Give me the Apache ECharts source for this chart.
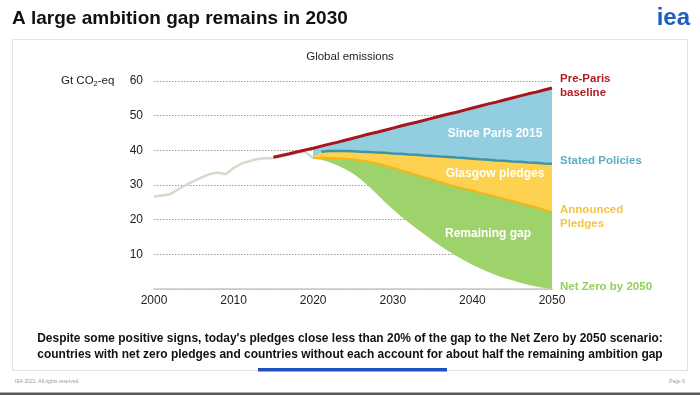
<!DOCTYPE html>
<html><head><meta charset="utf-8">
<script src="https://cdn.jsdelivr.net/npm/echarts@6/dist/echarts.min.js"></script>
<style>html,body{margin:0;padding:0;background:#fff;}#c{width:700px;height:395px;}</style>
</head><body><div id="c"></div>
<script>
// ---- data (Gt CO2-eq) ----
const histYears = [2000,2001,2002,2003,2004,2005,2006,2007,2008,2009,2010,2011,2012,2013,2014,2015,2016,2017,2018,2019,2020];
const historical = [26.7,27.0,27.3,28.7,30.0,31.1,32.2,33.2,33.6,33.1,34.9,36.2,36.9,37.5,37.7,37.8,38.2,38.8,39.3,39.5,37.8];

const preParisYears = [2015,2016,2017,2018,2019,2020,2021,2022,2023,2024,2025,2026,2027,2028,2029,2030,2031,2032,2033,2034,2035,2036,2037,2038,2039,2040,2041,2042,2043,2044,2045,2046,2047,2048,2049,2050];
const preParis = [38.0,38.5,39.0,39.6,40.1,40.6,41.2,41.8,42.3,42.9,43.5,44.1,44.7,45.2,45.8,46.4,47.0,47.6,48.1,48.7,49.3,49.9,50.5,51.0,51.6,52.2,52.8,53.4,53.9,54.5,55.1,55.7,56.3,56.8,57.4,58.0];

const projYears = [2020,2021,2022,2023,2024,2025,2026,2027,2028,2029,2030,2031,2032,2033,2034,2035,2036,2037,2038,2039,2040,2041,2042,2043,2044,2045,2046,2047,2048,2049,2050];
const statedPolicies = [37.8,39.6,39.8,39.8,39.8,39.7,39.6,39.5,39.4,39.3,39.1,39.0,38.8,38.7,38.5,38.4,38.2,38.1,37.9,37.8,37.6,37.4,37.3,37.1,37.0,36.8,36.7,36.5,36.4,36.2,36.1];
const announcedPledges = [37.7,37.8,37.8,37.7,37.6,37.4,37.1,36.7,36.2,35.6,35.0,34.3,33.6,32.9,32.2,31.5,30.8,30.1,29.5,28.9,28.4,27.8,27.2,26.6,26.0,25.4,24.8,24.2,23.6,22.9,22.2];
const netZero = [37.7,37.3,36.6,35.7,34.6,33.3,31.6,29.6,27.4,25.1,23.0,21.0,19.2,17.4,15.7,14.0,12.4,10.9,9.5,8.2,7.0,5.9,4.9,4.0,3.2,2.5,1.8,1.2,0.7,0.3,0.0];

const yTicks = [10,20,30,40,50,60];

// ---- build ----
const SANS = '"Liberation Sans",Arial,sans-serif';
const allYears = [];
for (let y = 2000; y <= 2050; y++) allYears.push(y);
const onAxis = (xs, vs) => allYears.map(y => { const i = xs.indexOf(y); return i < 0 ? '-' : vs[i]; });
const ppAt = y => preParis[preParisYears.indexOf(y)];
const diffOnAxis = (f) => allYears.map(y => { const i = projYears.indexOf(y); return i < 0 ? '-' : +f(y, i).toFixed(2); });

const chart = echarts.init(document.getElementById('c'), null, {renderer: 'canvas'});
const flat = {symbol: 'none', showSymbol: false, silent: true, connectNulls: false};
const noLine = {width: 0, opacity: 0};

const txt = (x, y, text, font, fill, align, extra) => Object.assign({type: 'text', z: 10,
  style: {x, y, text, font, fill, textAlign: align || 'left', align: align || 'left', textVerticalAlign: 'middle', verticalAlign: 'middle'}}, extra || {});

chart.setOption({
  animation: false,
  backgroundColor: '#fff',
  grid: {left: 154, right: 148, top: 81, bottom: 106},
  xAxis: {
    type: 'category', data: allYears.map(String), boundaryGap: false,
    axisLine: {lineStyle: {color: '#c8c8c8', width: 1.5}},
    axisTick: {show: false}, splitLine: {show: false},
    axisLabel: {color: '#222', fontSize: 12, fontFamily: SANS, margin: 6, interval: 9}
  },
  yAxis: {
    type: 'value', min: 0, max: 60, interval: 10,
    axisLine: {show: false}, axisTick: {show: false},
    axisLabel: {color: '#222', fontSize: 12, fontFamily: SANS, margin: 11,
      formatter: v => yTicks.includes(v) ? String(v) : ''},
    splitLine: {lineStyle: {color: '#9a9a9a', type: [1.5, 1.5], width: 1}}
  },
  series: [
    Object.assign({type: 'line', name: 'Historical', data: onAxis(histYears, historical),
      lineStyle: {color: '#dcd7cc', width: 2.5}, z: 2}, flat),
    Object.assign({type: 'line', name: 'nzBase', stack: 'gap', data: onAxis(projYears, netZero),
      lineStyle: noLine, z: 3}, flat),
    Object.assign({type: 'line', name: 'Remaining gap', stack: 'gap',
      data: diffOnAxis((y, i) => announcedPledges[i] - netZero[i]),
      lineStyle: noLine, areaStyle: {color: '#9dd36a', opacity: 1}, z: 3}, flat),
    Object.assign({type: 'line', name: 'Glasgow pledges', stack: 'gap',
      data: diffOnAxis((y, i) => statedPolicies[i] - announcedPledges[i]),
      lineStyle: noLine, areaStyle: {color: '#fdd250', opacity: 1}, z: 3}, flat),
    Object.assign({type: 'line', name: 'Since Paris 2015', stack: 'gap',
      data: diffOnAxis((y, i) => ppAt(y) - statedPolicies[i]),
      lineStyle: noLine, areaStyle: {color: '#93cde0', opacity: 1}, z: 3}, flat),
    Object.assign({type: 'line', name: 'Announced Pledges line', data: onAxis(projYears, announcedPledges),
      lineStyle: {color: '#f7b514', width: 2}, z: 4}, flat),
    Object.assign({type: 'line', name: 'Stated Policies line',
      data: onAxis(projYears.slice(1), statedPolicies.slice(1)),
      lineStyle: {color: '#3f94aa', width: 2.5}, z: 4}, flat),
    Object.assign({type: 'line', name: 'Pre-Paris baseline', data: onAxis(preParisYears, preParis),
      lineStyle: {color: '#a8161d', width: 3}, z: 5}, flat)
  ],
  graphic: [
    {type: 'rect', z: -1, shape: {x: 12.5, y: 39.5, width: 675, height: 331}, style: {fill: 'rgba(0,0,0,0)', stroke: '#e2e2e2', lineWidth: 1}},
    {type: 'rect', shape: {x: 258, y: 368, width: 189, height: 3.5}, style: {fill: '#1f4fc2'}},
    {type: 'rect', shape: {x: 0, y: 392.5, width: 700, height: 3}, style: {fill: '#5a5a5a'}},
    txt(12, 19, 'A large ambition gap remains in 2030', 'bold 19px ' + SANS, '#111'),
    txt(690, 18, 'iea', 'bold 24px ' + SANS, '#1d5fc0', 'right'),
    txt(350, 57, 'Global emissions', '11.5px ' + SANS, '#222', 'center'),
    {type: 'text', style: {x: 61, y: 81, text: '{a|Gt CO}{s|2}{a|-eq}', textVerticalAlign: 'middle', verticalAlign: 'middle',
      rich: {a: {fontSize: 11.5, fontFamily: SANS, fill: '#222', color: '#222'}, s: {fontSize: 7.5, fontFamily: SANS, fill: '#222', color: '#222', padding: [6, 0, 0, 0]}}}},
    // series labels
    {type: 'text', left: 560, top: 72, style: {text: 'Pre-Paris\nbaseline', font: 'bold 11.5px ' + SANS, fill: '#b01c22', lineHeight: 14}},
    txt(560, 161, 'Stated Policies', 'bold 11.5px ' + SANS, '#5aaec6'),
    {type: 'text', left: 560, top: 203, style: {text: 'Announced\nPledges', font: 'bold 11.5px ' + SANS, fill: '#f5c443', lineHeight: 14}},
    txt(560, 287, 'Net Zero by 2050', 'bold 11.5px ' + SANS, '#93cf5a'),
    txt(495, 134, 'Since Paris 2015', 'bold 12px ' + SANS, '#fff', 'center'),
    txt(495, 174, 'Glasgow pledges', 'bold 12px ' + SANS, '#fff', 'center'),
    txt(488, 234, 'Remaining gap', 'bold 12px ' + SANS, '#fff', 'center'),
    // caption (condensed horizontally like the slide's narrow font)
    txt(350, 338, "Despite some positive signs, today's pledges close less than 20% of the gap to the Net Zero by 2050 scenario:", 'bold 13px ' + SANS, '#111', 'center',
      {scaleX: 0.92, originX: 350, originY: 338}),
    txt(350, 354, 'countries with net zero pledges and countries without each account for about half the remaining ambition gap', 'bold 13px ' + SANS, '#111', 'center',
      {scaleX: 0.92, originX: 350, originY: 354}),
    txt(15, 382, 'IEA 2021. All rights reserved.', '5px ' + SANS, '#999'),
    txt(685, 382, 'Page 6', '5px ' + SANS, '#999', 'right')
  ]
});
</script>
</body></html>
